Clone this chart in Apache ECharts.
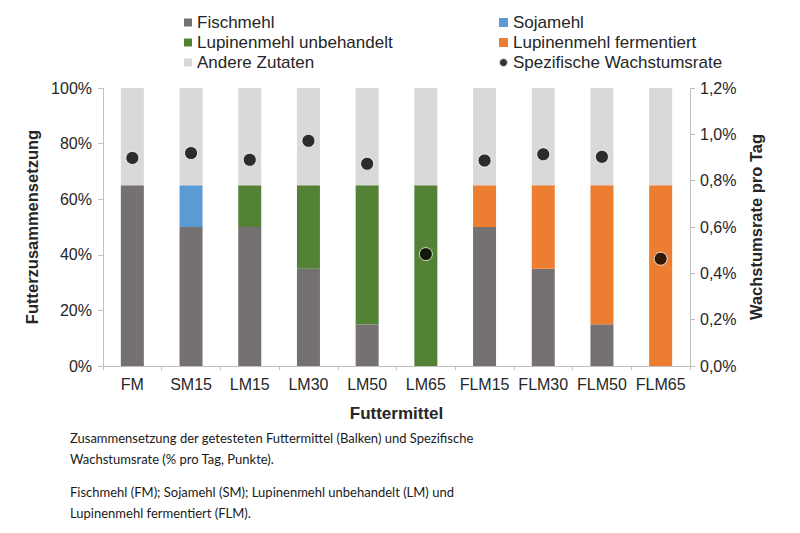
<!DOCTYPE html>
<html>
<head>
<meta charset="utf-8">
<script src="https://cdn.jsdelivr.net/npm/echarts@6/dist/echarts.min.js"></script>
<style>
  html, body { margin: 0; padding: 0; background: #fff; }
  #chart { width: 800px; height: 533px; }
</style>
</head>
<body>
<div id="chart"></div>
<script>
(function() {
  var categories = ['FM', 'SM15', 'LM15', 'LM30', 'LM50', 'LM65', 'FLM15', 'FLM30', 'FLM50', 'FLM65'];
  var fischmehl = [65, 50, 50, 35, 15, 0, 50, 35, 15, 0];
  var sojamehl = [0, 15, 0, 0, 0, 0, 0, 0, 0, 0];
  var lupineUnbeh = [0, 0, 15, 30, 50, 65, 0, 0, 0, 0];
  var lupineFerm = [0, 0, 0, 0, 0, 0, 15, 30, 50, 65];
  var andere = [35, 35, 35, 35, 35, 35, 35, 35, 35, 35];
  var wachstum = [0.898, 0.919, 0.890, 0.972, 0.873, 0.483, 0.887, 0.914, 0.903, 0.463];

  var axisColor = '#bfbfbf';
  var textColor = '#262626';
  var font = 'Arial';
  var captionFont = '13px Lato, sans-serif';

  var chart = echarts.init(document.getElementById('chart'), null, { renderer: 'svg' });

  function bar(name, data, color) {
    return {
      name: name,
      type: 'bar',
      stack: 'total',
      barWidth: 23,
      itemStyle: { color: color },
      data: data
    };
  }

  var legendText = { color: textColor, fontSize: 17, fontFamily: font };
  var nameStyle = { color: textColor, fontSize: 17, fontWeight: 'bold', fontFamily: font };

  chart.setOption({
    animation: false,
    textStyle: { fontFamily: font },
    legend: [
      {
        orient: 'vertical',
        left: 184,
        top: 14,
        padding: 0,
        itemGap: 3,
        itemWidth: 8,
        itemHeight: 8,
        textStyle: legendText,
        data: [
          { name: 'Fischmehl', icon: 'rect' },
          { name: 'Lupinenmehl unbehandelt', icon: 'rect' },
          { name: 'Andere Zutaten', icon: 'rect' }
        ]
      },
      {
        orient: 'vertical',
        left: 498,
        top: 14,
        padding: 0,
        itemGap: 3,
        itemWidth: 9,
        itemHeight: 9,
        textStyle: legendText,
        data: [
          { name: 'Sojamehl', icon: 'rect' },
          { name: 'Lupinenmehl fermentiert', icon: 'rect' },
          { name: 'Spezifische Wachstumsrate', icon: 'circle' }
        ]
      }
    ],
    grid: { left: 103, right: 110, top: 88, bottom: 167 },
    xAxis: {
      type: 'category',
      data: categories,
      name: 'Futtermittel',
      nameLocation: 'middle',
      nameGap: 39,
      nameTextStyle: nameStyle,
      axisLine: { lineStyle: { color: axisColor } },
      axisTick: { show: true, length: 4, lineStyle: { color: axisColor } },
      axisLabel: { color: textColor, fontSize: 16, margin: 10, interval: 0, fontFamily: font }
    },
    yAxis: [
      {
        type: 'value',
        min: 0,
        max: 100,
        interval: 20,
        name: 'Futterzusammensetzung',
        nameLocation: 'middle',
        nameRotate: 90,
        nameGap: 54,
        nameTextStyle: { color: textColor, fontSize: 16.5, fontWeight: 'bold', fontFamily: font },
        axisLine: { show: true, lineStyle: { color: axisColor } },
        axisTick: { show: true, length: 5, lineStyle: { color: axisColor } },
        axisLabel: { color: textColor, fontSize: 16, margin: 11, fontFamily: font, formatter: '{value}%' },
        splitLine: { show: false }
      },
      {
        type: 'value',
        min: 0,
        max: 1.2,
        interval: 0.2,
        name: 'Wachstumsrate pro Tag',
        nameLocation: 'middle',
        nameRotate: 90,
        nameGap: 70,
        nameTextStyle: { color: textColor, fontSize: 16.5, fontWeight: 'bold', fontFamily: font, verticalAlign: 'bottom' },
        axisLine: { show: true, lineStyle: { color: axisColor } },
        axisTick: { show: true, length: 5, lineStyle: { color: axisColor } },
        axisLabel: {
          color: textColor,
          fontSize: 16,
          margin: 10,
          fontFamily: font,
          formatter: function(v) { return v.toFixed(1).replace('.', ',') + '%'; }
        },
        splitLine: { show: false }
      }
    ],
    series: [
      bar('Fischmehl', fischmehl, '#767171'),
      bar('Sojamehl', sojamehl, '#5b9bd5'),
      bar('Lupinenmehl unbehandelt', lupineUnbeh, '#548235'),
      bar('Lupinenmehl fermentiert', lupineFerm, '#ed7d31'),
      bar('Andere Zutaten', andere, '#d9d9d9'),
      {
        name: 'Spezifische Wachstumsrate',
        type: 'scatter',
        yAxisIndex: 1,
        symbolSize: 13,
        itemStyle: { color: '#000', borderColor: '#fff', borderWidth: 1 },
        data: wachstum
      }
    ],
    graphic: [
      {
        type: 'text',
        left: 70,
        top: 427,
        style: {
          text: 'Zusammensetzung der getesteten Futtermittel (Balken) und Spezifische\nWachstumsrate (% pro Tag, Punkte).',
          fill: '#1a1a1a',
          font: captionFont,
          lineHeight: 21
        }
      },
      {
        type: 'text',
        left: 70,
        top: 481,
        style: {
          text: 'Fischmehl (FM); Sojamehl (SM); Lupinenmehl unbehandelt (LM) und\nLupinenmehl fermentiert (FLM).',
          fill: '#1a1a1a',
          font: captionFont,
          lineHeight: 21
        }
      }
    ]
  });

  window.addEventListener('resize', function() {
    chart.resize();
  });
})();
</script>
</body>
</html>
